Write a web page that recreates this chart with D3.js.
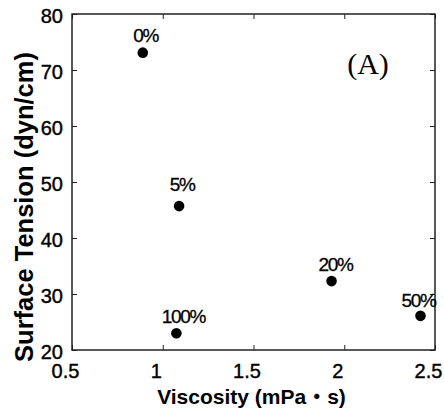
<!DOCTYPE html>
<html>
<head>
<meta charset="utf-8">
<script src="https://cdn.jsdelivr.net/npm/d3@7"></script>
<style>
  body { margin: 0; background: #fff; }
  text { font-family: "Liberation Sans", Arial, "Noto Sans CJK JP", sans-serif; fill: #000; }
</style>
</head>
<body>
<div id="chart"></div>
<script>
// data
let labels = ['0%', '5%', '20%', '50%', '100%'];
let viscosity = [0.89, 1.09, 1.93, 2.42, 1.075];
let tension = [73.1, 45.7, 32.3, 26.1, 23.0];
let xTicks = [0.5, 1, 1.5, 2, 2.5];
let yTicks = [20, 30, 40, 50, 60, 70, 80];

// label nudges (px) so text sits where the original puts it
let labelDx = [3, 3, 4, -2, 7];
let labelDy = [-11, -15, -10, -9, -10];

let svgWidth = 444;
let svgHeight = 409;

let margin = {
    top: 14,
    right: 9,
    bottom: 59,
    left: 72
};

let width = svgWidth - margin.left - margin.right;
let height = svgHeight - margin.top - margin.bottom;

let svg = d3.select('#chart')
    .append('svg')
    .attr('width', svgWidth)
    .attr('height', svgHeight);

let chartGroup = svg.append('g')
    .attr('transform', `translate(${margin.left}, ${margin.top})`);

let xScale = d3.scaleLinear().domain([0.5, 2.5]).range([0, width]);
let yScale = d3.scaleLinear().domain([20, 80]).range([height, 0]);

// inward ticks on all four sides
let fmt = d => String(d);
let bottomAxis = d3.axisBottom(xScale).tickValues(xTicks).tickSize(-5).tickFormat(fmt).tickPadding(14);
let leftAxis = d3.axisLeft(yScale).tickValues(yTicks).tickSize(-5).tickFormat(fmt).tickPadding(14);
let topAxis = d3.axisTop(xScale).tickValues(xTicks).tickSize(-5).tickFormat('');
let rightAxis = d3.axisRight(yScale).tickValues(yTicks).tickSize(-5).tickFormat('');

let xAxis = chartGroup.append('g')
    .attr('transform', `translate(0, ${height})`)
    .call(bottomAxis);
xAxis.selectAll('text')
    .attr('font-size', 20)
    .attr('stroke', '#000')
    .attr('stroke-width', 0.4)
    .attr('dx', -7)
    .attr('dy', '0.7em');

let yAxis = chartGroup.append('g').call(leftAxis);
yAxis.selectAll('text')
    .attr('font-size', 20)
    .attr('stroke', '#000')
    .attr('stroke-width', 0.4)
    .attr('dx', 5)
    .attr('dy', '0.42em');

chartGroup.append('g').call(topAxis);
chartGroup.append('g').attr('transform', `translate(${width}, 0)`).call(rightAxis);

chartGroup.selectAll('.domain').remove();
chartGroup.selectAll('.tick line').attr('stroke', '#222').attr('stroke-width', 1);

chartGroup.append('rect')
    .attr('width', width)
    .attr('height', height)
    .attr('fill', 'none')
    .attr('stroke', '#222')
    .attr('stroke-width', 1.5);

// points
chartGroup.selectAll('circle')
    .data(labels)
    .enter()
    .append('circle')
    .attr('cx', (d, i) => xScale(viscosity[i]))
    .attr('cy', (d, i) => yScale(tension[i]))
    .attr('r', 5.3)
    .attr('fill', '#000');

chartGroup.selectAll('.ptlabel')
    .data(labels)
    .enter()
    .append('text')
    .attr('class', 'ptlabel')
    .attr('x', (d, i) => xScale(viscosity[i]) + labelDx[i])
    .attr('y', (d, i) => yScale(tension[i]) + labelDy[i])
    .attr('text-anchor', 'middle')
    .attr('font-size', 19)
    .attr('letter-spacing', -1.3)
    .attr('stroke', '#000')
    .attr('stroke-width', 0.3)
    .text(d => d);

chartGroup.append('text')
    .attr('x', 368 - margin.left)
    .attr('y', 74 - margin.top)
    .attr('text-anchor', 'middle')
    .style('font-family', '"Liberation Serif", "Times New Roman", serif')
    .attr('font-size', 30)
    .text('(A)');

// axis titles
svg.append('text')
    .attr('x', margin.left + width / 2 - 2)
    .attr('y', 404)
    .attr('text-anchor', 'middle')
    .attr('font-size', 21)
    .attr('font-weight', 'bold')
    .text('Viscosity (mPa・s)');

svg.append('text')
    .attr('transform', `translate(33, 207) rotate(-90)`)
    .attr('text-anchor', 'middle')
    .attr('font-size', 25.5)
    .attr('font-weight', 'bold')
    .text('Surface Tension (dyn/cm)');
</script>
</body>
</html>
